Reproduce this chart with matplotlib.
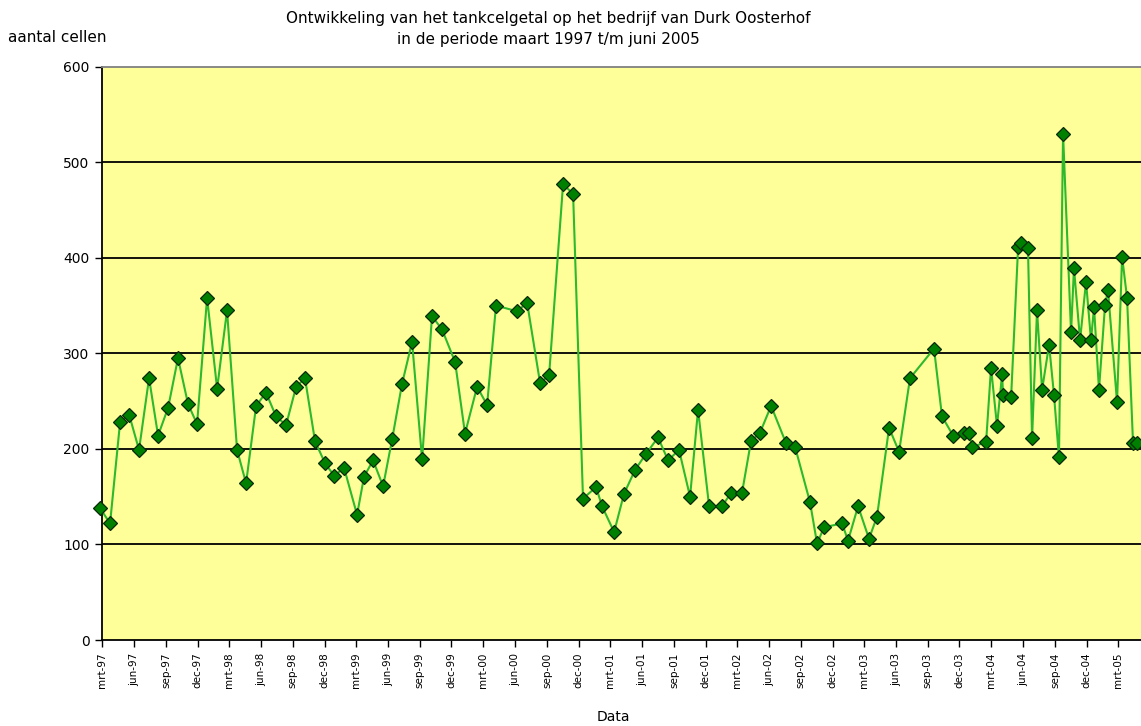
import matplotlib
matplotlib.use("Agg")
import matplotlib.pyplot as plt
import numpy as np
import pandas as pd

# Sample moments as decimal years
sample_year = [
    1997.146, 1997.225, 1997.304, 1997.375, 1997.453, 1997.532, 1997.603, 1997.682,
    1997.760, 1997.839, 1997.910, 1997.989, 1998.068, 1998.146, 1998.225, 1998.296,
    1998.375, 1998.453, 1998.532, 1998.611, 1998.690, 1998.760, 1998.839, 1998.918,
    1998.989, 1999.068, 1999.170, 1999.225, 1999.296, 1999.375, 1999.446, 1999.524,
    1999.603, 1999.682, 1999.760, 1999.839, 1999.942, 2000.020, 2000.115, 2000.194,
    2000.264, 2000.430, 2000.509, 2000.611, 2000.682, 2000.792, 2000.871, 2000.949,
    2001.052, 2001.099, 2001.194, 2001.272, 2001.359, 2001.446, 2001.540, 2001.619,
    2001.705, 2001.792, 2001.855, 2001.942, 2002.044, 2002.115, 2002.201, 2002.272,
    2002.343, 2002.430, 2002.548, 2002.619, 2002.737, 2002.792, 2002.847, 2002.989,
    2003.036, 2003.115, 2003.201, 2003.264, 2003.359, 2003.438, 2003.524, 2003.713,
    2003.776, 2003.863, 2003.949, 2003.989, 2004.012, 2004.123, 2004.162, 2004.209,
    2004.249, 2004.257, 2004.320, 2004.375, 2004.398, 2004.453, 2004.485, 2004.524,
    2004.564, 2004.619, 2004.658, 2004.697, 2004.729, 2004.792, 2004.815, 2004.863,
    2004.910, 2004.949, 2004.973, 2005.012, 2005.060, 2005.083, 2005.154, 2005.194,
    2005.233, 2005.280, 2005.312,
]

# Tank cell count (x1000 cells/ml)
cell_count = [
    138, 122, 228, 236, 199, 274, 214, 243,
    295, 247, 226, 358, 263, 345, 199, 164,
    245, 259, 234, 225, 265, 274, 208, 185,
    172, 180, 131, 171, 188, 161, 210, 268,
    312, 189, 339, 325, 291, 216, 265, 246,
    350, 344, 353, 269, 277, 477, 467, 148,
    160, 140, 113, 153, 178, 195, 212, 188,
    199, 150, 241, 140, 140, 154, 154, 208,
    217, 245, 206, 202, 144, 101, 118, 122,
    104, 140, 106, 129, 222, 197, 274, 305,
    234, 214, 217, 217, 202, 207, 285, 224,
    278, 256, 254, 411, 416, 410, 211, 345,
    262, 309, 256, 191, 530, 322, 389, 314,
    375, 314, 348, 262, 351, 366, 249, 401,
    358, 206, 206,
]

month_abbr = {3: "mrt", 6: "jun", 9: "sep", 12: "dec"}
tick_dates = pd.date_range("1997-03-01", "2005-03-01", freq="3MS")
tick_labels = [f"{month_abbr[d.month]}-{d.strftime('%y')}" for d in tick_dates]

y_ticks = [0, 100, 200, 300, 400, 500, 600]

title_text = ("Ontwikkeling van het tankcelgetal op het bedrijf van Durk Oosterhof\n"
              "in de periode maart 1997 t/m juni 2005")

def year_to_date(y):
    base = pd.Timestamp("1997-01-01")
    return base + pd.to_timedelta((y - 1997.0) * 365.25, unit="D")

dates = [year_to_date(y) for y in sample_year]

plt.rcParams["font.family"] = ["DejaVu Sans"]

fig = plt.figure(figsize=(11.41, 7.26), dpi=100)
fig.patch.set_facecolor("white")
ax = fig.add_axes([102 / 1141, 1 - 640 / 726, 1 - 102 / 1141, (640 - 66.7) / 726])
ax.set_facecolor("#FFFF99")

for v in y_ticks[1:-1]:
    ax.axhline(v, color="black", lw=1.3, zorder=1)

ax.plot(dates, cell_count, color="#2DB82D", lw=1.5, zorder=3,
        marker="D", markersize=7.5, markerfacecolor="#008000",
        markeredgecolor="#0A2A0A", markeredgewidth=0.9, clip_on=False)

x0 = pd.Timestamp("1997-03-01")
x1 = x0 + pd.Timedelta(days=(1141 - 102) / 0.3477)
ax.set_xlim(x0, x1)
ax.set_ylim(0, 600)

ax.set_yticks(y_ticks)
ax.set_yticklabels([str(v) for v in y_ticks], fontsize=10)
ax.set_xticks(tick_dates)
ax.set_xticklabels(tick_labels, rotation=90, fontsize=7.5)
ax.tick_params(axis="both", direction="out", length=5, width=1, color="black")
ax.tick_params(axis="y", pad=4)
ax.tick_params(axis="x", pad=4)

for s in ["left", "bottom"]:
    ax.spines[s].set_color("black")
    ax.spines[s].set_linewidth(1.3)
    ax.spines[s].set_zorder(2)
ax.spines["top"].set_color("#808080")
ax.spines["top"].set_linewidth(1.3)
ax.spines["right"].set_visible(False)

fig.text(548 / 1141, 1 - 29 / 726, title_text, ha="center", va="center",
         fontsize=11, linespacing=1.45)
fig.text(8 / 1141, 1 - 37 / 726, "aantal cellen", ha="left", va="center", fontsize=11)
fig.text(613 / 1141, 1 - 717 / 726, "Data", ha="center", va="center", fontsize=10)

fig.savefig("out.png", dpi=100, facecolor="white")
